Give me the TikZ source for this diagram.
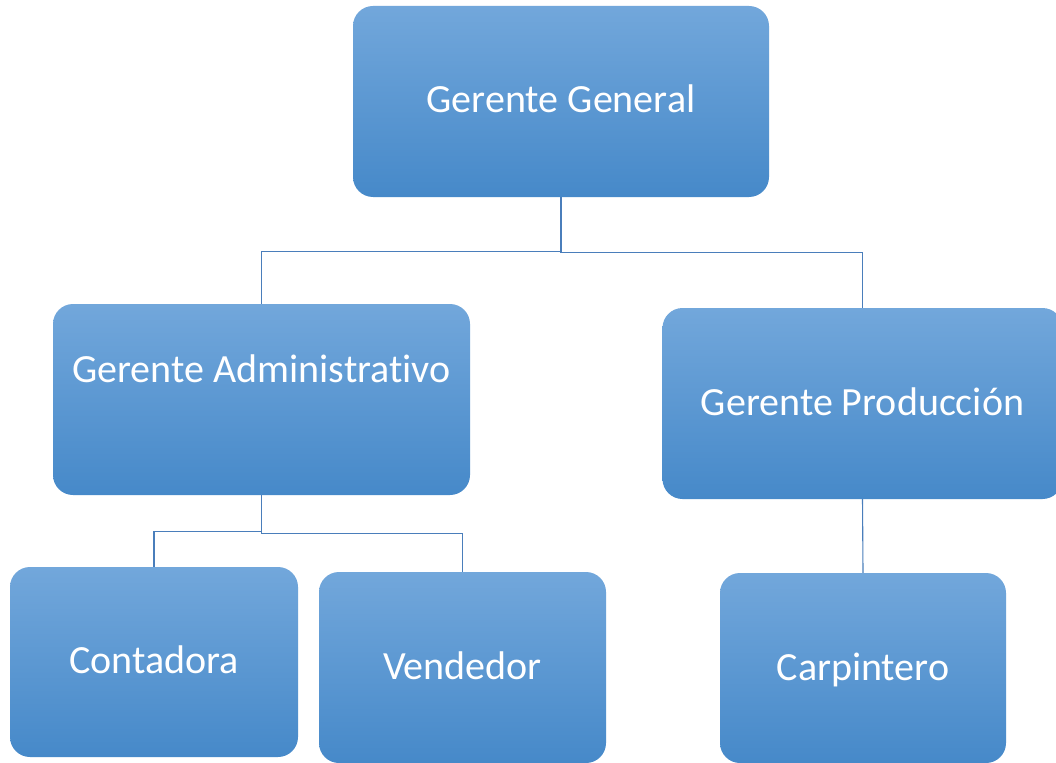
\documentclass[tikz,border=0pt]{standalone}
\usepackage{fontspec}
\setmainfont{Carlito}[Ligatures={NoCommon,NoRare},Contextuals=NoAlternate]
\definecolor{btop}{HTML}{72A7DB}
\definecolor{bmid}{HTML}{5B9BD5}
\definecolor{bbot}{HTML}{4689C9}
\definecolor{lineblue}{HTML}{4A7EBB}
\begin{document}
\begin{tikzpicture}[x=1pt,y=-1pt,
  box/.style={rounded corners=20pt, inner sep=0pt, top color=btop, middle color=bmid, bottom color=bbot, draw=none},
  lbl/.style={anchor=base, text=white, inner sep=0pt, font=\fontsize{40}{48}\selectfont},
  conn/.style={draw=lineblue, line width=1.1pt}]
\useasboundingbox (0,0) rectangle (1056,762);
\fill[white] (0,0) rectangle (1056,762);
% boxes
\node[box, minimum width=416pt, minimum height=191pt] (GG) at (561,101.5) {};
\node[box, minimum width=417pt, minimum height=191pt] (GA) at (261.5,399.5) {};
\node[box, minimum width=400pt, minimum height=191pt] (GP) at (862.5,403.5) {};
\node[box, minimum width=288pt, minimum height=190pt] (CO) at (154,662) {};
\node[box, minimum width=287pt, minimum height=191pt] (VE) at (462.5,667.5) {};
\node[box, minimum width=286pt, minimum height=190pt] (CA) at (863,668) {};
% labels
\node[lbl] (tGG) at (561,113) {Gerente General};
\node[lbl] (tGA) at (261.5,382) {Gerente Administrativo};
\node[lbl] (tGP) at (862.5,415) {Gerente Producción};
\node[lbl] (tCO) at (154,673) {Contadora};
\node[lbl] (tVE) at (462.5,679) {Vendedor};
\node[lbl] (tCA) at (863,680) {Carpintero};
% connectors
\draw[conn] (GG.south) -- ++(0,54) -| (GA.north);
\draw[conn] (GG.south) -- ++(0,55) -| (GP.north);
\draw[conn] (GA.south) -- ++(0,36) -| (CO.north);
\draw[conn] (GA.south) -- ++(0,38) -| (VE.north);
\draw[conn] (GP.south) -- (CA.north);
\end{tikzpicture}
\end{document}
